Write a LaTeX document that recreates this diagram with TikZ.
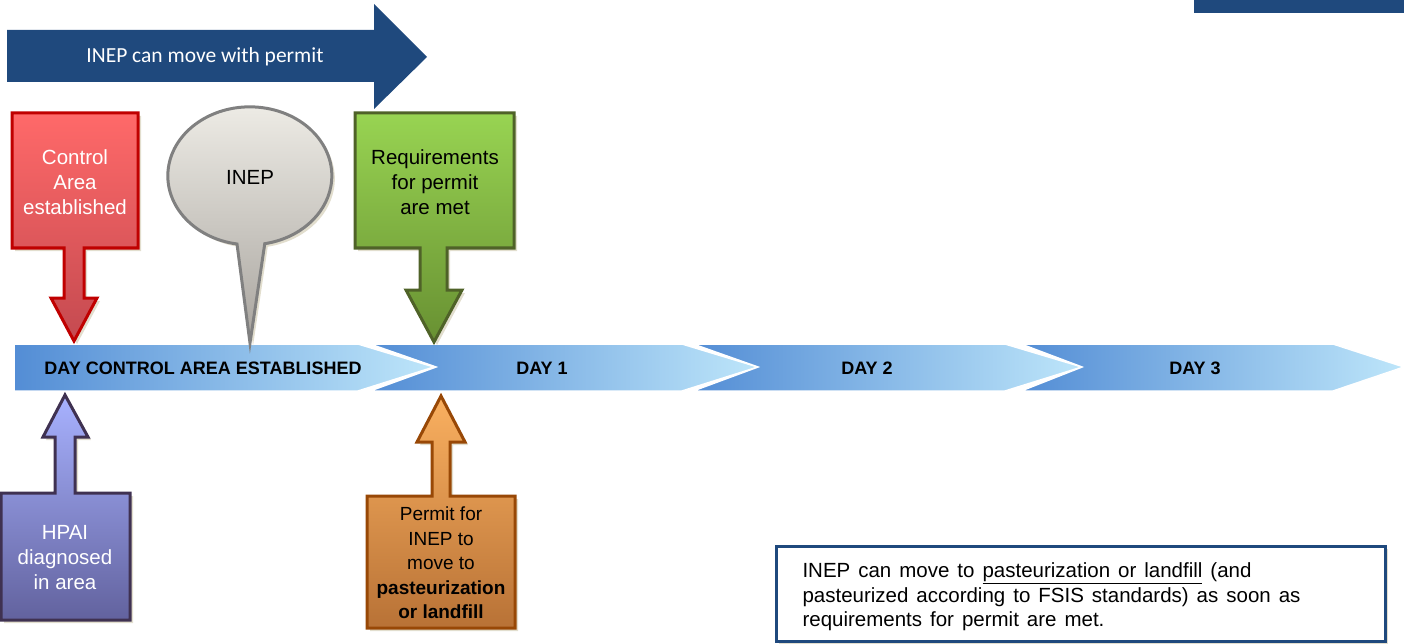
\documentclass[tikz,border=0pt]{standalone}
\usepackage{fontspec}
\setmainfont{Liberation Sans}
\newfontfamily\calfont{Carlito}
\newfontfamily\notefont[WordSpace=1.4]{Liberation Sans}
\usetikzlibrary{shadows}
\definecolor{navy}{RGB}{31,73,125}
\definecolor{shadowc}{RGB}{226,222,206}
\definecolor{redline}{RGB}{192,0,0}
\definecolor{redtop}{RGB}{255,105,105}
\definecolor{redbot}{RGB}{196,74,80}
\definecolor{grayline}{RGB}{128,128,128}
\definecolor{graytop}{RGB}{238,236,230}
\definecolor{graybot}{RGB}{168,164,158}
\definecolor{greenline}{RGB}{79,98,40}
\definecolor{greentop}{RGB}{152,212,82}
\definecolor{greenbot}{RGB}{104,144,50}
\definecolor{purpline}{RGB}{63,49,81}
\definecolor{purptop}{RGB}{168,178,255}
\definecolor{purpbot}{RGB}{98,98,158}
\definecolor{orline}{RGB}{152,72,6}
\definecolor{ortop}{RGB}{250,176,96}
\definecolor{orbot}{RGB}{184,114,54}
\definecolor{dayleft}{RGB}{83,141,213}
\definecolor{dayright}{RGB}{190,230,250}
\tikzset{shad/.style={drop shadow={shadow xshift=3pt,shadow yshift=-3pt,fill=shadowc,opacity=1}}}
\tikzset{callout/.style={shad,line width=3pt,line join=miter}}
\tikzset{redcall/.style={callout,draw=redline,top color=redtop,bottom color=redbot}}
\tikzset{graycall/.style={callout,draw=grayline,top color=graytop,bottom color=graybot}}
\tikzset{greencall/.style={callout,draw=greenline,top color=greentop,bottom color=greenbot}}
\tikzset{purpcall/.style={callout,draw=purpline,top color=purptop,bottom color=purpbot}}
\tikzset{orcall/.style={callout,draw=orline,top color=ortop,bottom color=orbot}}
\tikzset{daystep/.style={draw=white,line width=1.5pt,left color=dayleft,right color=dayright}}
\tikzset{boxtxt/.style={align=center,font=\fontsize{20.5}{25}\selectfont}}
\tikzset{daytxt/.style={font=\bfseries\fontsize{18}{20}\selectfont}}

\begin{document}
\begin{tikzpicture}[x=1pt,y=-1pt]
\useasboundingbox (0,0) rectangle (1404,644);
\fill[navy] (7,30)--(374,30)--(374,4)--(427,57)--(374,109)--(374,82)--(7,82)--cycle;
\node (permit) at (205,57) [text=white,font=\calfont\fontsize{21.5}{26}\selectfont] {INEP can move with permit};
\fill[navy] (1194,0) rectangle (1404,13);

\path[daystep] (14,344)--(358,344)--(434,367)--(358,391)--(14,391)--cycle;
\path[daystep] (370,344)--(682,344)--(758,367)--(682,391)--(370,391)--(436,367)--cycle;
\path[daystep] (693,344)--(1005,344)--(1082,367)--(1005,391)--(693,391)--(758,367)--cycle;
\path[daystep] (1021,344)--(1333,344)--(1404,367)--(1333,391)--(1021,391)--(1082,367)--cycle;
\node (day0) at (203,368) [daytxt] {DAY CONTROL AREA ESTABLISHED};
\node (day1) at (542,368) [daytxt] {DAY 1};
\node (day2) at (867,368) [daytxt] {DAY 2};
\node (day3) at (1195,368) [daytxt] {DAY 3};

\path[redcall] (12,113)--(138,113)--(138,248)--(84,248)--(84,298)--(97,298)--(74,341)--(51,298)--(64,298)--(64,248)--(12,248)--cycle;
\node (control) at (75,182) [boxtxt,text=white] {Control\\Area\\established};

\path[graycall] (250,343)--(237,244) arc[start angle=261,end angle=-79.5,x radius=82pt,y radius=69pt]--cycle;
\node (inep) at (250,177) [boxtxt] {INEP};

\path[greencall] (355,113)--(514,113)--(514,248)--(447,248)--(447,290)--(462,290)--(434,342)--(406,290)--(420,290)--(420,248)--(355,248)--cycle;
\node (req) at (435,182) [boxtxt] {Requirements\\for permit\\are met};

\path[purpcall] (1,620)--(1,493)--(55,493)--(55,437)--(43,437)--(65,395)--(88,437)--(75,437)--(75,493)--(130,493)--(130,620)--cycle;
\node (hpai) at (65,558) [boxtxt,text=white] {HPAI\\diagnosed\\in area};

\path[orcall] (367,628)--(367,496)--(432,496)--(432,442)--(417,442)--(441,396)--(465,442)--(450,442)--(450,496)--(515,496)--(515,628)--cycle;
\node (perm) at (441,563) [boxtxt,font=\fontsize{19}{24.5}\selectfont] {Permit for\\INEP to\\move to\\\textbf{pasteurization}\\\textbf{or landfill}};

\draw[shad,navy,line width=3pt,fill=white] (776,546) rectangle (1385,641);
\node (note) at (799,597) [anchor=west,align=left,font=\notefont\fontsize{20.5}{24.5}\selectfont] {INEP can move to \underline{pasteurization or landfill} (and\\pasteurized according to FSIS standards) as soon as\\requirements for permit are met.};
\end{tikzpicture}
\end{document}
